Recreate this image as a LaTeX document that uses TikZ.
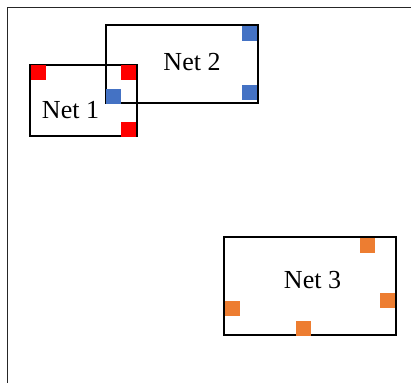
\documentclass[tikz,border=0pt]{standalone}
\usepackage{fontspec}
\setmainfont{Liberation Serif}
\definecolor{netred}{HTML}{FF0000}
\definecolor{netblue}{HTML}{4472C4}
\definecolor{netorange}{HTML}{ED7D31}
\begin{document}
\begin{tikzpicture}[x=1pt,y=-1pt,
  netbox/.style={draw=black,line width=2pt,rectangle,inner sep=0pt,outer sep=0pt},
  pin/.style={rectangle,inner sep=0pt,outer sep=0pt,minimum width=15pt,minimum height=15pt},
  lbl/.style={inner sep=0pt,anchor=base,font=\fontsize{26}{30}\selectfont},
  frame/.style={draw=black!85,line width=1.5pt}]
\useasboundingbox (0,0) rectangle (411,383);
\coordinate (ftr) at (411,7.5);
\coordinate (ftl) at (7.5,7.5);
\coordinate (fbl) at (7.5,383);
\draw[frame] (ftr) -- (ftl) -- (fbl);
% boxes
\node[netbox,minimum width=152pt,minimum height=78pt] (n2) at (181.5,64) {};
\node[netbox,minimum width=107pt,minimum height=71pt] (n1) at (83,100) {};
\node[netbox,minimum width=172pt,minimum height=98pt] (n3) at (310,286) {};
% labels
\node[lbl] (l1) at (70.5,118) {Net 1};
\node[lbl] (l2) at (192,70) {Net 2};
\node[lbl] (l3) at (312.5,288) {Net 3};
% pins
\node[pin,fill=netred] (r1) at (38,72.5) {};
\node[pin,fill=netred] (r2) at (128,72.5) {};
\node[pin,fill=netred] (r3) at (128,129.5) {};
\node[pin,fill=netblue] (b1) at (249.5,33.7) {};
\node[pin,fill=netblue] (b2) at (249.5,92.7) {};
\node[pin,fill=netblue] (b3) at (113.7,96) {};
\node[pin,fill=netorange] (o1) at (367,245) {};
\node[pin,fill=netorange] (o2) at (387.5,300.5) {};
\node[pin,fill=netorange] (o3) at (232.5,308) {};
\node[pin,fill=netorange] (o4) at (303.5,328) {};
\end{tikzpicture}
\end{document}
